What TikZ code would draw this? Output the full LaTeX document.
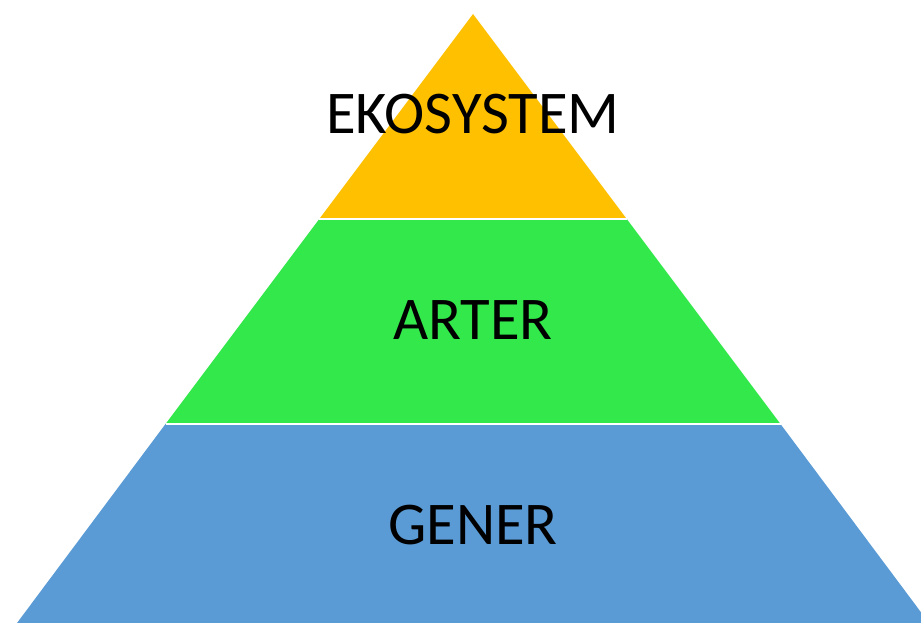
\documentclass[tikz,border=0pt]{standalone}
\usepackage{fontspec}
\setmainfont{Carlito}
\usetikzlibrary{calc}
\definecolor{ekoyellow}{HTML}{FFC000}
\definecolor{artgreen}{HTML}{32E84B}
\definecolor{genblue}{HTML}{5B9BD5}
\tikzset{
  lbl/.style = {font=\fontsize{45.5}{55}\selectfont, text=black, inner sep=0pt},
}
\begin{document}
\begin{tikzpicture}[x=0.75pt,y=-0.75pt]
  \useasboundingbox (0,0) rectangle (921,622);
  \clip (0,0) rectangle (921,622);
  \coordinate (T) at (473,14);
  \coordinate (L1) at ($(T)!{(219-14)/(622-14)}!(17,622)$);
  \coordinate (R1) at ($(T)!{(219-14)/(622-14)}!(929,622)$);
  \coordinate (L2) at ($(T)!{(424-14)/(622-14)}!(17,622)$);
  \coordinate (R2) at ($(T)!{(424-14)/(622-14)}!(929,622)$);
  \coordinate (L3) at (17,623);
  \coordinate (R3) at (929,623);
  \fill[genblue] (L2) -- (R2) -- (R3) -- (L3) -- cycle;
  \fill[artgreen] (L1) -- (R1) -- (R2) -- (L2) -- cycle;
  \fill[ekoyellow] (T) -- (R1) -- (L1) -- cycle;
  \draw[white, line width=1.4pt] (L1) -- (R1);
  \draw[white, line width=1.4pt] (L2) -- (R2);
  \node[lbl] (eko) at (473,114) {EKOSYSTEM};
  \node[lbl] (art) at (473,320) {ARTER};
  \node[lbl] (gen) at (473,525) {GENER};
\end{tikzpicture}
\end{document}
